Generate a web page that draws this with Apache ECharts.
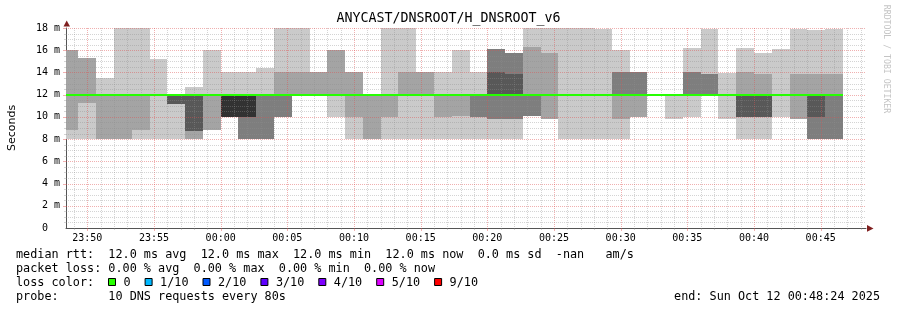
<!DOCTYPE html>
<html><head><meta charset="utf-8">
<script src="https://cdn.jsdelivr.net/npm/echarts@6/dist/echarts.min.js"></script>
<style>html,body{margin:0;padding:0;background:#fff}#c{width:897px;height:310px}</style>
</head><body><div id="c"></div>
<script>
// ---- data (times are slot ends, 80 s probe step) ----
const slotEnd = ['23:49:20','23:50:40','23:52:00','23:53:20','23:54:40','23:56:00','23:57:20','23:58:40','00:00:00','00:01:20',
 '00:02:40','00:04:00','00:05:20','00:06:40','00:08:00','00:09:20','00:10:40','00:12:00','00:13:20','00:14:40',
 '00:16:00','00:17:20','00:18:40','00:20:00','00:21:20','00:22:40','00:24:00','00:25:20','00:26:40','00:28:00',
 '00:29:20','00:30:40','00:32:00','00:33:20','00:34:40','00:36:00','00:37:20','00:38:40','00:40:00','00:41:20',
 '00:42:40','00:44:00','00:45:20','00:46:40'];
// sorted ping values (ms) per slot, p1 = fastest ... p10 = slowest
const p1  = [8,8,8,8,8,8,8,8,8.8,10, 8,8,10,12,12,10,8,8,8,8, 8,8,8,8,8,8,10.1,9.8,8,8, 8,8,10,12,9.8,10,12,9.8,8,8, 10,9.8,8,8];
const p2  = [8.8,11.25,8,8,8.8,12,11.2,8,8.8,10, 8,8,10,12,12,12,10,8,10,12, 12,10,10.1,10,9.8,9.8,10.1,9.8,12,12, 12,9.8,10,12,12,12,12,12,10,10, 12,9.8,8,8];
const p3  = [12,12,12,12,12,12,11.2,8.7,12,10, 8,8,10,12,12,12,12,12,12,12, 12,12,12,10,9.8,9.8,10.1,12,12,12, 12,12,12,12,12,12,12,12,10,10, 12,12,8,8];
const p4  = [12,12,12,12,12,12,11.2,8.7,12,10, 10,12,12,12,12,12,12,12,12,12, 12,12,12,12,12,12,12,12,12,12, 12,12,12,12,12,12,12,12,10,10, 12,12,10,12];
const p5  = [12,12,12,12,12,12,12,12,12,10, 10,12,12,12,12,12,12,12,12,12, 12,12,12,12,12,12,12,12,12,12, 12,12,12,12,12,12,12,12,12,12, 12,12,12,12];
const p6  = [12,12,12,12,12,12,12,12,12,12, 12,12,12,12,12,12,12,12,12,12, 12,12,12,12,12,12,12,12,12,12, 12,12,12,12,12,12,12,12,12,12, 12,12,12,12];
const p7  = [12,12,12,12,12,12,12,12,12,12, 12,12,12,12,12,12,12,12,12,12, 12,12,12,12,14,13.9,12,12,12,12, 12,12,12,12,12,12,12,12,12,12, 12,12,12,12];
const p8  = [12,12,12,12,12,12,12,12,12,12, 12,12,12,12,12,12,12,12,12,12, 12,12,12,12,16.1,15.75,12,12,12,12, 12,14,14,12,12,14,13.9,12,12,12, 12,12,12,12];
const p9  = [16,15.3,12,12,12,12,12,12,12,12, 12,12,14,14,14,16,14,12,12,14, 14,12,12,12,16.1,15.75,16.25,15.75,12,12, 12,14,14,12,12,14,13.9,12,14,13.9, 12,13.9,13.9,13.9];
const p10 = [16,15.3,13.5,18,18,15.2,12,12.7,16,14, 14,14.4,18,18,14,16,14,12,18,18, 14,14,16,14,16.1,15.75,18,18,18,18, 17.9,16,14,12,12,16.2,17.9,13.95,16.2,15.75, 16.1,17.9,17.8,17.9];
const median = [12,12,12,12,12,12,12,12,12,12, 12,12,12,12,12,12,12,12,12,12, 12,12,12,12,12,12,12,12,12,12, 12,12,12,12,12,12,12,12,12,12, 12,12,12,12];
const xTickLabels = ['23:50','23:55','00:00','00:05','00:10','00:15','00:20','00:25','00:30','00:35','00:40','00:45'];
const yTickValues = [0,2,4,6,8,10,12,14,16,18];
const rttStats = ['12.0','12.0','12.0','12.0','0.0'];
const lossStats = ['0.00','0.00','0.00','0.00'];
const lossLabels = ['0','1/10','2/10','3/10','4/10','5/10','9/10'];
const lossColors = ['#26ff00','#00b8ff','#0059ff','#5e00ff','#7e00ff','#dd00ff','#ff0000'];
const endText = 'end: Sun Oct 12 00:48:24 2025';
const titleText = 'ANYCAST/DNSROOT/H_DNSROOT_v6';

// ---- helpers ----
const STEP = 80;
function secs(s){ const a=s.split(':').map(Number); let v=a[0]*3600+a[1]*60+(a[2]||0)-(23*3600+50*60); if(a[0]<12) v+=86400; return v; }
const X_MAX = secs('00:48:24'), X_MIN = X_MAX - 3600;
const SMOKE = ['#cacaca','#a4a4a4','#7e7e7e','#585858','#323232'];
const MONO = '"DejaVu Sans Mono", monospace';

const smokeData = slotEnd.map((e,k)=>{const t=secs(e);return [t-STEP,t,p1[k],p2[k],p3[k],p4[k],p5[k],p6[k],p7[k],p8[k],p9[k],p10[k]];});
const medData = slotEnd.map((e,k)=>{const t=secs(e);return [t-STEP,t,median[k]];});
const xTickSecs = xTickLabels.map(l=>secs(l+':00'));
const labelMap = {}; xTickSecs.forEach((s,i)=>labelMap[s]=xTickLabels[i]);
const vGrid=[]; for(let t=Math.ceil(X_MIN/60)*60;t<X_MAX;t+=60){ vGrid.push([t,0,(t%300===0)?1:0]); }
const hGrid=[]; for(let v=0.5;v<=18;v+=0.5){ hGrid.push([X_MIN,v,(v%2===0)?1:0]); }

const GRID_C='rgba(143,143,143,0.38)', MGRID_C='rgba(222,79,79,0.45)';

function smokeItem(params, api){
  const t0=Math.max(api.value(0),X_MIN), t1=api.value(1);
  const ch=[];
  for(let b=0;b<5;b++){
    const lo=api.value(2+b), hi=api.value(11-b);
    if(hi<=lo) continue;
    const a=api.coord([t0,hi]), c=api.coord([t1,lo]);
    const x0=Math.round(a[0]), x1=Math.round(c[0]), y0=Math.round(a[1]), y1=Math.round(c[1]);
    ch.push({type:'rect',shape:{x:x0,y:y0,width:x1-x0,height:y1-y0},style:{fill:SMOKE[b]}});
  }
  return {type:'group',children:ch};
}
function medItem(params, api){
  const t0=Math.max(api.value(0),X_MIN), t1=api.value(1), m=api.value(2);
  const a=api.coord([t0,m]), c=api.coord([t1,m]);
  const y=Math.round(a[1]);
  return {type:'line',shape:{x1:Math.round(a[0]),y1:y,x2:Math.round(c[0]),y2:y},style:{stroke:'#26ff00',lineWidth:2}};
}
function vGridItem(params, api){
  const t=api.value(0), major=api.value(2);
  const pb=api.coord([t,0]), pt=api.coord([t,18]);
  const x=Math.round(pb[0])+0.5;
  return {type:'group',children:[
    {type:'line',shape:{x1:x,y1:pt[1],x2:x,y2:pb[1]},style:{stroke:major?MGRID_C:GRID_C,lineWidth:1,lineDash:[1,1]}},
    {type:'line',shape:{x1:x,y1:pb[1],x2:x,y2:pb[1]+(major?3:2)},style:{stroke:major?MGRID_C:GRID_C,lineWidth:1}}
  ]};
}
function hGridItem(params, api){
  const v=api.value(1), major=api.value(2);
  const pl=api.coord([X_MIN,v]), pr=api.coord([X_MAX,v]);
  const y=Math.round(pl[1])+0.5;
  return {type:'group',children:[
    {type:'line',shape:{x1:pl[0],y1:y,x2:pr[0],y2:y},style:{stroke:major?MGRID_C:GRID_C,lineWidth:1,lineDash:[1,1]}},
    {type:'line',shape:{x1:pl[0]-(major?3:2),y1:y,x2:pl[0],y2:y},style:{stroke:major?MGRID_C:GRID_C,lineWidth:1}}
  ]};
}

// ---- legend graphics ----
const CW = 7.1, FS = '11.8px '+MONO;
const g = [];
g.push({type:'text',x:448.5,y:19,style:{text:titleText,font:'13.3px '+MONO,fill:'#000',align:'center',verticalAlign:'middle'}});
g.push({type:'text',x:886,y:59,rotation:-Math.PI/2,style:{text:'RRDTOOL / TOBI OETIKER',font:'8.2px '+MONO,fill:'#c4c4c4',align:'center',verticalAlign:'middle'}});
g.push({type:'polygon',shape:{points:[[63.5,26.5],[70,26.5],[66.7,20.5]]},style:{fill:'#801f1f'}});
g.push({type:'polygon',shape:{points:[[867,225],[867,231.8],[873.5,228.4]]},style:{fill:'#801f1f'}});
const line1='median rtt:  '+rttStats[0]+' ms avg  '+rttStats[1]+' ms max  '+rttStats[2]+' ms min  '+rttStats[3]+' ms now  '+rttStats[4]+' ms sd  -nan   am/s';
const line2='packet loss: '+lossStats[0]+' % avg  '+lossStats[1]+' % max  '+lossStats[2]+' % min  '+lossStats[3]+' % now';
const line4='probe:       10 DNS requests every 80s';
[[line1,254.5],[line2,268.5],['loss color:',282.5],[line4,296.5]].forEach(([t,y])=>{
  g.push({type:'text',x:16,y:y,style:{text:t,font:FS,fill:'#000',align:'left',verticalAlign:'middle'}});
});
let bx=108.5;
lossLabels.forEach((l,i)=>{
  g.push({type:'rect',shape:{x:bx,y:278.5,width:7,height:7},style:{fill:lossColors[i],stroke:'#000',lineWidth:1}});
  g.push({type:'text',x:bx+15,y:282.5,style:{text:l,font:FS,fill:'#000',align:'left',verticalAlign:'middle'}});
  bx += 14.7 + l.length*CW + 14.8;
});
g.push({type:'text',x:880,y:296.5,style:{text:endText,font:FS,fill:'#000',align:'right',verticalAlign:'middle'}});

const chart = echarts.init(document.getElementById('c'), null, {renderer:'canvas'});
chart.setOption({
  animation:false,
  backgroundColor:'#ffffff',
  grid:{left:66,right:31,top:28,bottom:82,containLabel:false,outerBoundsMode:'none'},
  xAxis:{type:'value',min:X_MIN,max:X_MAX,
    axisLine:{show:true,onZero:false,lineStyle:{color:'#555',width:1}},
    axisTick:{show:false},splitLine:{show:false},minorSplitLine:{show:false},
    axisLabel:{customValues:xTickSecs,formatter:v=>labelMap[v]||'',fontFamily:MONO,fontSize:10,color:'#000',margin:5}},
  yAxis:{type:'value',min:0,max:18,interval:2,
    name:'Seconds',nameLocation:'middle',nameGap:48,nameRotate:90,
    nameTextStyle:{fontFamily:'"DejaVu Sans", sans-serif',fontSize:11,color:'#000'},
    axisLine:{show:true,onZero:false,lineStyle:{color:'#555',width:1}},
    axisTick:{show:false},splitLine:{show:false},
    axisLabel:{formatter:v=>(yTickValues.indexOf(v)<0?'':(v===0?'0  ':v+' m')),fontFamily:MONO,fontSize:10,color:'#000',margin:6}},
  series:[
    {type:'custom',name:'smoke',coordinateSystem:'cartesian2d',renderItem:smokeItem,data:smokeData,encode:{x:[0,1],y:[2,3,4,5,6,7,8,9,10,11]},z:2,silent:true},
    {type:'custom',name:'vgrid',coordinateSystem:'cartesian2d',renderItem:vGridItem,data:vGrid,encode:{x:0,y:1},z:3,silent:true},
    {type:'custom',name:'hgrid',coordinateSystem:'cartesian2d',renderItem:hGridItem,data:hGrid,encode:{x:0,y:1},z:3,silent:true},
    {type:'custom',name:'median',coordinateSystem:'cartesian2d',renderItem:medItem,data:medData,encode:{x:[0,1],y:2},z:4,silent:true}
  ],
  graphic:g
});
</script></body></html>
